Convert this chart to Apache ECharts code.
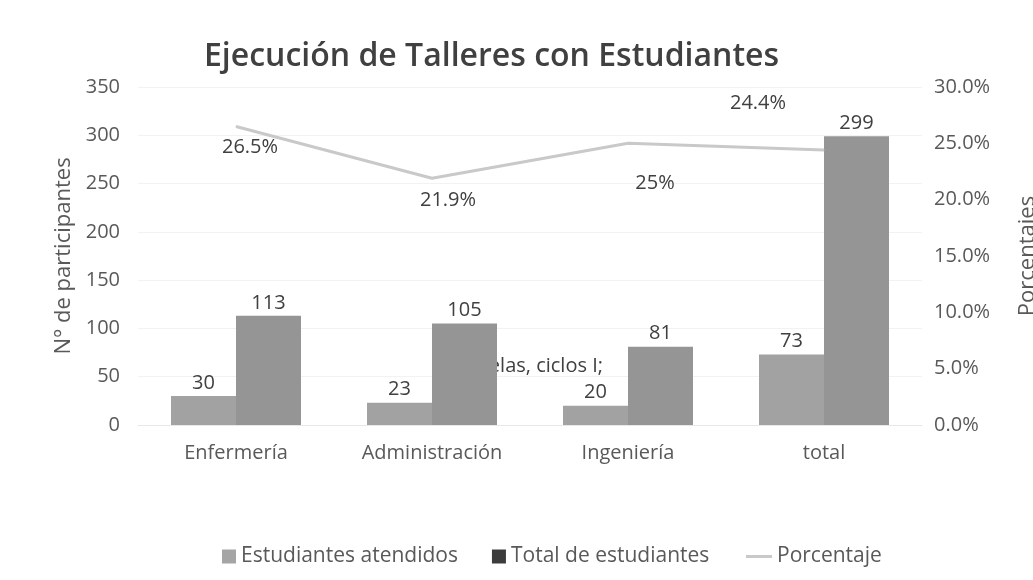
<!DOCTYPE html>
<html>
<head>
<meta charset="utf-8">
<script src="https://cdn.jsdelivr.net/npm/echarts@6/dist/echarts.min.js"></script>
<style>
  html, body { margin: 0; padding: 0; background: #ffffff; }
  #chart { width: 1033px; height: 580px; }
</style>
</head>
<body>
<div id="chart"></div>
<script>
// Categories and series values
const categories = ['Enfermería', 'Administración', 'Ingeniería', 'total'];
const atendidos = [30, 23, 20, 73];
const totalEstudiantes = [113, 105, 81, 299];
const porcentaje = [26.5, 21.9, 25, 24.4];
const leftTicks = { min: 0, max: 350, interval: 50 };
const rightTicks = { min: 0, max: 30, interval: 5 };

// Where each percentage label sits relative to its point
const pctLabelOffsets = [[14, 21], [16, 22], [27, 40], [-66, -47]];

const FONT = '"Open Sans", "Noto Sans", sans-serif';
const TXT = '#595959';
const FS = 20;

const chart = echarts.init(document.getElementById('chart'), null, { renderer: 'canvas' });

const option = {
  backgroundColor: '#ffffff',
  animation: false,
  title: {
    text: 'Ejecución de Talleres con Estudiantes',
    left: 199,
    top: 36,
    textStyle: { fontFamily: FONT, fontSize: 32, fontWeight: 600, color: '#404040' }
  },
  grid: { left: 138, right: 111, top: 87, bottom: 155, outerBoundsMode: 'none', containLabel: false },
  legend: [
    {
      left: 217, top: 541,
      itemWidth: 14, itemHeight: 14, itemGap: 34,
      icon: 'rect',
      textStyle: { fontFamily: FONT, fontSize: 21, color: TXT },
      data: [
        { name: 'Estudiantes atendidos', itemStyle: { color: '#a5a5a5' } },
        { name: 'Total de estudiantes', itemStyle: { color: '#3c3c3c' } }
      ]
    },
    {
      left: 741, top: 541,
      itemWidth: 26, itemHeight: 3,
      icon: 'rect',
      textStyle: { fontFamily: FONT, fontSize: 21, color: TXT },
      data: [{ name: 'Porcentaje', itemStyle: { color: '#c9c9c9' } }]
    }
  ],
  xAxis: {
    type: 'category',
    data: categories,
    axisTick: { show: false },
    axisLine: { lineStyle: { color: '#e8e8e8' } },
    axisLabel: { fontFamily: FONT, fontSize: FS, color: TXT, margin: 18 }
  },
  yAxis: [
    {
      type: 'value',
      min: leftTicks.min, max: leftTicks.max, interval: leftTicks.interval,
      name: 'N° de participantes',
      nameLocation: 'middle',
      nameGap: 62,
      nameTextStyle: { fontFamily: FONT, fontSize: 22, color: TXT },
      axisLine: { show: false },
      axisTick: { show: false },
      axisLabel: { fontFamily: FONT, fontSize: FS, color: TXT, margin: 18 },
      splitLine: { lineStyle: { color: '#f2f2f2' } }
    },
    {
      type: 'value',
      min: rightTicks.min, max: rightTicks.max, interval: rightTicks.interval,
      name: 'Porcentajes',
      nameLocation: 'middle',
      nameGap: 95,
      nameTextStyle: { fontFamily: FONT, fontSize: 22, color: TXT },
      axisLine: { show: false },
      axisTick: { show: false },
      splitLine: { show: false },
      axisLabel: {
        fontFamily: FONT, fontSize: FS, color: TXT, margin: 12,
        formatter: v => v.toFixed(1) + '%'
      }
    }
  ],
  graphic: [
    {
      type: 'text',
      z: 0,
      right: 1033 - 603,
      top: 356,
      style: {
        text: 'Escuelas, ciclos I;',
        fontFamily: FONT, fontSize: FS, fill: '#404040'
      }
    }
  ],
  series: [
    {
      name: 'Estudiantes atendidos',
      type: 'bar',
      data: atendidos,
      barWidth: 65,
      barGap: '0%',
      z: 2,
      itemStyle: { color: '#a2a2a2' },
      label: { show: true, position: 'top', distance: 3, fontFamily: FONT, fontSize: FS, color: '#404040' }
    },
    {
      name: 'Total de estudiantes',
      type: 'bar',
      data: totalEstudiantes,
      barWidth: 65,
      barGap: '0%',
      z: 2,
      itemStyle: { color: '#959595' },
      label: { show: true, position: 'top', distance: 3, fontFamily: FONT, fontSize: FS, color: '#404040' }
    },
    {
      name: 'Porcentaje',
      type: 'line',
      yAxisIndex: 1,
      z: 3,
      symbol: 'circle',
      symbolSize: 1,
      lineStyle: { color: '#c9c9c9', width: 3 },
      itemStyle: { color: '#c9c9c9' },
      data: porcentaje.map((v, i) => ({
        value: v,
        label: {
          show: true,
          position: 'inside',
          offset: pctLabelOffsets[i],
          formatter: p => p.value + '%',
          fontFamily: FONT, fontSize: FS, color: '#404040'
        }
      }))
    }
  ]
};

chart.setOption(option);
</script>
</body>
</html>
